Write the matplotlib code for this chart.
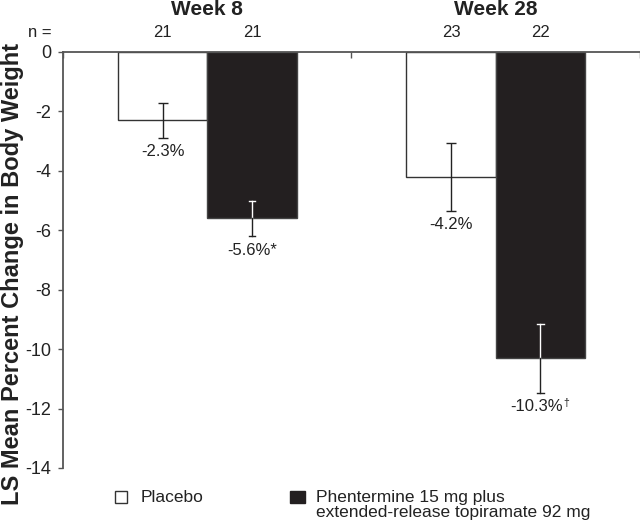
import matplotlib
matplotlib.use("Agg")
import matplotlib.pyplot as plt
from matplotlib.patches import Rectangle

plt.rcParams['font.family'] = ['Liberation Sans', 'DejaVu Sans']

weeks = ["Week 8", "Week 28"]
groups = ["Placebo", "Phentermine 15 mg plus\nextended-release topiramate 92 mg"]
placebo_vals = [-2.3, -4.2]
active_vals = [-5.6, -10.3]
placebo_err = [0.58, 1.15]
active_err = [0.6, 1.16]
placebo_n = [21, 23]
active_n = [21, 22]
placebo_labels = ["-2.3%", "-4.2%"]
active_labels = ["-5.6%*", "-10.3%"]
active_marks = ["", "\u2020"]
yticks = [0, -2, -4, -6, -8, -10, -12, -14]

fig = plt.figure(figsize=(6.4, 5.23), dpi=100)
ax = fig.add_axes([0.0984, 0.1052, 0.9016, 0.7954])

centers = [0.5, 1.5]
off = 0.155
w = 0.309
dark = "#231f20"
axcol = "#555555"
txt = "#222222"

for i, c in enumerate(centers):
    xp = c - off
    xa = c + off
    ax.bar(xp, placebo_vals[i], width=w, color="white", edgecolor="#333333", linewidth=1.0, zorder=2)
    ax.bar(xa, active_vals[i], width=w, color=dark, edgecolor="#444444", linewidth=1.0, zorder=2)
    ax.errorbar(xp, placebo_vals[i], yerr=placebo_err[i], fmt="none", ecolor=txt,
                elinewidth=1.0, capsize=3.5, capthick=1.0, zorder=3)
    v, e = active_vals[i], active_err[i]
    ax.plot([xa, xa], [v, v + e], color="white", lw=1.0, zorder=3)
    ax.plot([xa - 0.011, xa + 0.011], [v + e, v + e], color="white", lw=1.0, zorder=3)
    ax.plot([xa, xa], [v, v - e], color=txt, lw=1.0, zorder=3)
    ax.plot([xa - 0.011, xa + 0.011], [v - e, v - e], color=txt, lw=1.0, zorder=3)
    ax.text(xp, placebo_vals[i] - placebo_err[i] - 0.22, placebo_labels[i], ha="center", va="top",
            fontsize=12, color=txt)
    if active_marks[i]:
        ax.text(xa - 0.012, v - e - 0.22, active_labels[i], ha="center", va="top",
                fontsize=12, color=txt)
        ax.text(xa + 0.088, v - e - 0.2, active_marks[i], ha="center", va="top",
                fontsize=7.5, color=txt)
    else:
        ax.text(xa, v - e - 0.22, active_labels[i], ha="center", va="top", fontsize=12, color=txt)
    ax.text(xp, 0.42, str(placebo_n[i]), ha="center", va="bottom", fontsize=12, color=txt)
    ax.text(xa, 0.42, str(active_n[i]), ha="center", va="bottom", fontsize=12, color=txt)
    ax.text(c, 1.12, weeks[i], ha="center", va="bottom", fontsize=15, fontweight="bold", color=txt)

ax.text(-0.04, 0.42, "n =", ha="right", va="bottom", fontsize=12, color=txt)

ax.set_xlim(0, 2)
ax.set_ylim(-14, 0)
ax.set_yticks(yticks)
ax.set_yticklabels([str(t) for t in yticks], fontsize=13, color=txt)
ax.set_xticks([0, 1, 2])
ax.set_xticklabels([])
ax.xaxis.set_ticks_position("top")
ax.tick_params(axis="x", direction="in", length=4, color=axcol, width=1)
ax.tick_params(axis="y", direction="out", length=3.5, color=axcol, width=1, pad=5)
for s in ["right", "bottom"]:
    ax.spines[s].set_visible(False)
for s in ["top", "left"]:
    ax.spines[s].set_color(axcol)
    ax.spines[s].set_linewidth(1.3)

fig.text(13 / 640, 1 - 274 / 523, "LS Mean Percent Change in Body Weight", rotation=90,
         ha="center", va="center", fontsize=17, fontweight="bold", color=txt)

# legend
fig.patches.append(Rectangle((115 / 640, 1 - 503 / 523), 12 / 640, 12 / 523, transform=fig.transFigure,
                             facecolor="white", edgecolor="#333333", linewidth=1.0))
fig.text(141 / 640, 1 - 497 / 523, groups[0], ha="left", va="center", fontsize=12.5, color=txt)
fig.patches.append(Rectangle((290 / 640, 1 - 503 / 523), 15 / 640, 12 / 523, transform=fig.transFigure,
                             facecolor=dark, edgecolor=dark, linewidth=1.0))
fig.text(316 / 640, 1 - 505 / 523, groups[1], ha="left", va="center", fontsize=12.5, color=txt,
         linespacing=0.95)

fig.savefig("out.png", dpi=100)
